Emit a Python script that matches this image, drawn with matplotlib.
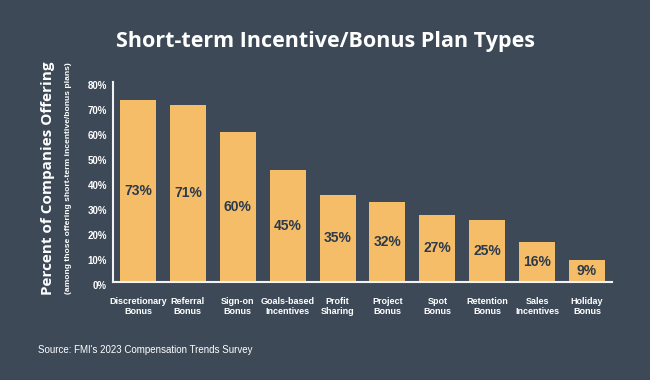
import matplotlib.pyplot as plt
import matplotlib.transforms as mtransforms
import numpy as np

# ── Data ───────────────────────────────────────────────────────────────────
categories = ["Discretionary\nBonus", "Referral\nBonus", "Sign-on\nBonus",
              "Goals-based\nIncentives", "Profit\nSharing", "Project\nBonus",
              "Spot\nBonus", "Retention\nBonus", "Sales\nIncentives",
              "Holiday\nBonus"]
percent = [73, 71, 60, 45, 35, 32, 27, 25, 16, 9]
y_ticks = [0, 10, 20, 30, 40, 50, 60, 70, 80]

# ── Style ──────────────────────────────────────────────────────────────────
BG_COLOR = "#3d4957"
BAR_COLOR = "#f6bd69"
LABEL_COLOR = "#2c3a4b"
TEXT_COLOR = "#ffffff"
TITLE_FONT = ["Open Sans", "DejaVu Sans"]
BODY_FONT = ["Liberation Sans", "DejaVu Sans"]

plt.rcParams["font.family"] = BODY_FONT

fig = plt.figure(figsize=(6.5, 3.8), dpi=100, facecolor=BG_COLOR)
ax = fig.add_axes([113 / 650, 1 - 282 / 380, 499 / 650, 200 / 380])
ax.set_facecolor(BG_COLOR)

x = np.arange(len(categories))
ax.bar(x, percent, width=0.72, color=BAR_COLOR, zorder=2)

for xi, v in zip(x, percent):
    ax.text(xi, v / 2, f"{v}%", ha="center", va="center",
            fontsize=10, fontweight="bold", color=LABEL_COLOR, zorder=3)

ax.set_xlim(-0.5, len(categories) - 0.5)
ax.set_ylim(0, 80)
ax.set_yticks(y_ticks)
ax.set_yticklabels([])
ax.set_xticks(x)
ax.set_xticklabels(categories, fontsize=6.5, fontweight="bold",
                   color=TEXT_COLOR, linespacing=1.1)

# y tick labels sit a few px below their gridline in the original
shift = mtransforms.ScaledTranslation(-6 / 100, -4 / 100, fig.dpi_scale_trans)
for v in y_ticks:
    ax.text(0, v, f"{v}%", ha="right", va="center", fontsize=7,
            fontweight="bold", color=TEXT_COLOR, clip_on=False,
            transform=ax.get_yaxis_transform() + shift)

ax.tick_params(axis="both", length=0)
ax.tick_params(axis="x", pad=11)
for side in ["top", "right"]:
    ax.spines[side].set_visible(False)
for side in ["left", "bottom"]:
    ax.spines[side].set_color("#f2f2f2")
    ax.spines[side].set_linewidth(1.5)

# ── Titles ─────────────────────────────────────────────────────────────────
fig.text(0.5, 1 - 41 / 380, "Short-term Incentive/Bonus Plan Types",
         ha="center", va="center", fontsize=15.5, fontweight="bold",
         color=TEXT_COLOR, family=TITLE_FONT)
fig.text(48 / 650, 1 - 178 / 380, "Percent of Companies Offering",
         ha="center", va="center", rotation=90, fontsize=11,
         fontweight="bold", color=TEXT_COLOR, family=TITLE_FONT)
fig.text(68 / 650, 1 - 178 / 380,
         "(among those offering short-term incentive/bonus plans)",
         ha="center", va="center", rotation=90, fontsize=6.1,
         fontweight="bold", color=TEXT_COLOR)
fig.text(38 / 650, 1 - 350 / 380, "Source: FMI's 2023 Compensation Trends Survey",
         ha="left", va="center", fontsize=7, color=TEXT_COLOR)

fig.savefig("out.png", dpi=100, facecolor=BG_COLOR)
